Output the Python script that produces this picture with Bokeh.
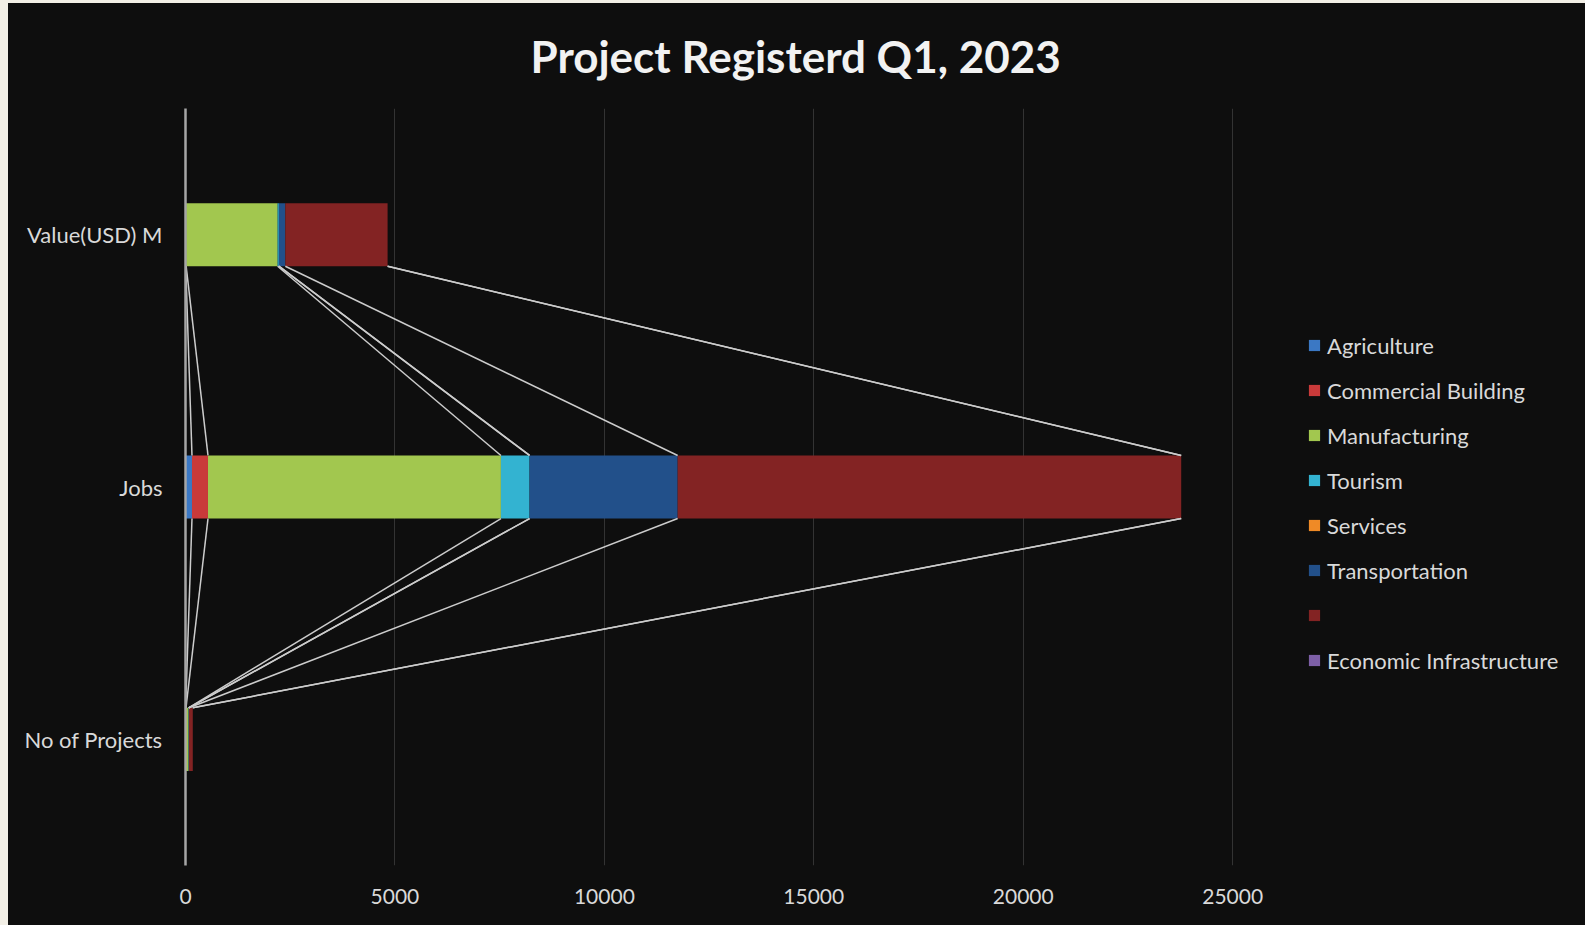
import numpy as np
from bokeh.plotting import figure
from bokeh.models import Legend, LegendItem, FixedTicker, Range1d
from bokeh.embed import file_html
from bokeh.resources import INLINE

# ---------------- data ----------------
categories = ["No of Projects", "Jobs", "Value(USD) M"]
series_names = ["Agriculture", "Commercial Building", "Manufacturing", "Tourism",
                "Services", "Transportation", " ", "Economic Infrastructure"]
agriculture = [3, 155, 5]
commercial_building = [8, 382, 10]
manufacturing = [62, 6994, 2184]
tourism = [5, 683, 30]
services = [0, 0, 0]
transportation = [6, 3536, 154]
unnamed = [90, 12022, 2442]
economic_infrastructure = [0, 0, 0]
x_ticks = [0, 5000, 10000, 15000, 20000, 25000]

series_values = [agriculture, commercial_building, manufacturing, tourism,
                 services, transportation, unnamed, economic_infrastructure]
colors = ["#3b78c4", "#c93a3a", "#a2c74f", "#33b3d1", "#ef8a26",
          "#22508a", "#832323", "#7d5fa6"]

BG = "#0e0e0e"
TXT = "#d9d9d9"
FONT = "Lato"

ypos = np.arange(len(categories), dtype=float)
BAR_H = 0.25

p = figure(width=1576, height=921, output_backend="svg", toolbar_location=None,
           x_range=Range1d(0, 33400), y_range=Range1d(-0.5, 2.5),
           min_border_left=177, min_border_right=0, min_border_top=105,
           min_border_bottom=59)
p.background_fill_color = BG
p.border_fill_color = BG
p.outline_line_color = None

# stacked bars
lefts = np.zeros(len(categories))
renderers = []
cum_ends = []
for vals, c in zip(series_values, colors):
    v = np.array(vals, dtype=float)
    rights = lefts + v
    r = p.hbar(y=ypos, left=lefts.copy(), right=rights.copy(), height=BAR_H,
               fill_color=c, line_color=None)
    renderers.append(r)
    cum_ends.append(rights.copy())
    lefts = rights

# series lines between adjacent categories (from segment ends)
x0s, y0s, x1s, y1s = [], [], [], []
for ends in cum_ends:
    for k in range(len(categories) - 1):
        x0s.append(ends[k + 1]); y0s.append(ypos[k + 1] - BAR_H / 2)
        x1s.append(ends[k]); y1s.append(ypos[k] + BAR_H / 2)
p.segment(x0=x0s, y0=y0s, x1=x1s, y1=y1s, line_color="#cccccc", line_width=1.5)

# axes
p.xaxis.ticker = FixedTicker(ticks=x_ticks)
p.xaxis.axis_line_color = None
p.xaxis.major_tick_line_color = None
p.xaxis.minor_tick_line_color = None
p.xaxis.major_tick_out = 0
p.xaxis.major_label_standoff = 23
p.xaxis.major_label_text_font = FONT
p.xaxis.major_label_text_font_size = "21px"
p.xaxis.major_label_text_color = TXT

p.yaxis.ticker = FixedTicker(ticks=list(ypos))
p.yaxis.major_label_overrides = {float(y): c for y, c in zip(ypos, categories)}
p.yaxis.major_label_overrides.update({int(y): c for y, c in zip(ypos, categories)})
p.yaxis.axis_line_color = "#a6a6a6"
p.yaxis.axis_line_width = 2.5
p.yaxis.major_tick_line_color = None
p.yaxis.minor_tick_line_color = None
p.yaxis.major_tick_out = 0
p.yaxis.major_label_standoff = 23
p.yaxis.major_label_text_font = FONT
p.yaxis.major_label_text_font_size = "22px"
p.yaxis.major_label_text_color = TXT

p.xgrid.grid_line_color = "#333333"
p.xgrid.grid_line_width = 1
p.ygrid.grid_line_color = None

# title
p.title.text = "Project Registerd Q1, 2023"
p.title.text_font = FONT
p.title.text_font_style = "bold"
p.title.text_font_size = "44px"
p.title.text_color = "#f2f2f2"
p.title.align = "left"
p.title.offset = 345
p.title.vertical_align = "top"
try:
    p.title.standoff = 50
except AttributeError:
    pass

# legend
items = [LegendItem(label=n, renderers=[r]) for n, r in zip(series_names, renderers)]
legend = Legend(items=items, location=(1122, 190))
legend.background_fill_alpha = 0
legend.border_line_color = None
legend.padding = 0
legend.margin = 0
legend.glyph_width = 14
legend.glyph_height = 14
legend.label_standoff = 6
legend.label_height = 30
legend.spacing = 15
legend.label_text_font = FONT
legend.label_text_font_size = "22px"
legend.label_text_color = TXT
p.add_layout(legend)

html = file_html(p, INLINE)
style = ("<style>html { background:#0e0e0e !important; margin:0 !important; } "
         "body { margin:0 !important; padding:0 !important; background:#0e0e0e !important; "
         "border-left:8px solid #f2efe6 !important; border-top:3px solid #f2efe6 !important; "
         "box-sizing:border-box !important; overflow:hidden !important; }</style>")
html = html.replace("</head>", style + "</head>", 1)
open("out.html", "w").write(html)
